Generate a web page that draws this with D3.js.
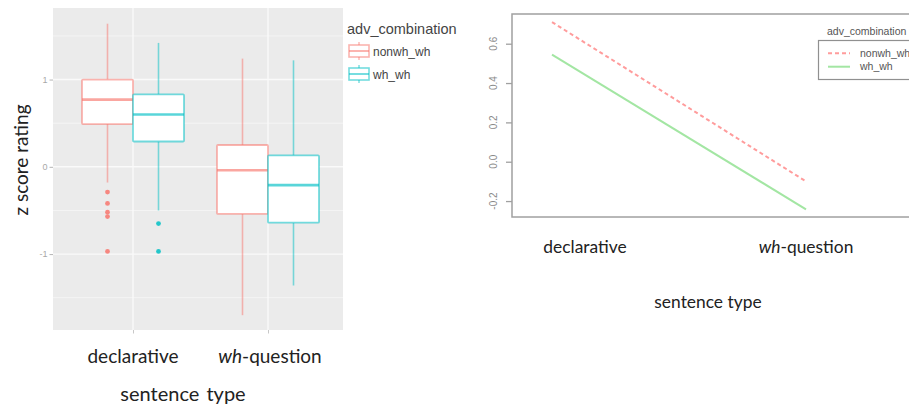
<!DOCTYPE html>
<html>
<head>
<meta charset="utf-8">
<script src="https://cdn.jsdelivr.net/npm/d3@7"></script>
<style>
  html, body { margin: 0; padding: 0; background: #fff; }
  svg { display: block; }
</style>
</head>
<body>
<svg id="chart" width="909" height="410"></svg>
<script>
// ---------- data ----------
const categories = ["declarative", "wh-question"];
const groups = ["nonwh_wh", "wh_wh"];
// box stats per category: [lower whisker, Q1, median, Q3, upper whisker]
const nonwhBox = [[-0.18, 0.49, 0.77, 1.00, 1.64], [-1.70, -0.54, -0.04, 0.25, 1.24]];
const whBox    = [[-0.50, 0.29, 0.60, 0.83, 1.42], [-1.36, -0.64, -0.21, 0.13, 1.22]];
const nonwhOutliers = [[-0.29, -0.42, -0.52, -0.57, -0.97], []];
const whOutliers    = [[-0.65, -0.97], []];
const leftYTicks = [-1, 0, 1];
const leftYMinor = [-1.5, -0.5, 0.5, 1.5];
// interaction plot means
const nonwhMeans = [0.71, -0.10];
const whMeans    = [0.545, -0.242];
const rightYTicks = [-0.2, 0.0, 0.2, 0.4, 0.6];

const boxColors = ["#F8766D", "#00BFC4"];
const lineColors = ["#ff9c9c", "#a3e6a3"];

const svg = d3.select("#chart");
const font = "Lato, 'Open Sans', sans-serif";
const smallFont = "'Liberation Sans', Arial, sans-serif";

// ---------- left panel (ggplot boxplot) ----------
const P = {x0: 53, x1: 343, y0: 8, y1: 330};
const yL = d3.scaleLinear().domain([-1.87, 1.82]).range([P.y1, P.y0]);
const xL = d3.scalePoint().domain(categories).range([133, 268]);
const boxW = 51;
const dodge = d3.scaleBand().domain(groups).range([-boxW, boxW]);

const left = svg.append("g");
left.append("rect").attr("x", P.x0).attr("y", P.y0)
  .attr("width", P.x1 - P.x0).attr("height", P.y1 - P.y0).attr("fill", "#ebebeb");
left.selectAll(".minor").data(leftYMinor).join("line")
  .attr("x1", P.x0).attr("x2", P.x1)
  .attr("y1", d => yL(d)).attr("y2", d => yL(d))
  .attr("stroke", "#f7f7f7").attr("stroke-width", 0.8);
left.selectAll(".major").data(leftYTicks).join("line")
  .attr("x1", P.x0).attr("x2", P.x1)
  .attr("y1", d => yL(d)).attr("y2", d => yL(d))
  .attr("stroke", "#fafafa").attr("stroke-width", 1.4);
left.selectAll(".vmajor").data(categories).join("line")
  .attr("x1", d => xL(d)).attr("x2", d => xL(d))
  .attr("y1", P.y0).attr("y2", P.y1)
  .attr("stroke", "#fafafa").attr("stroke-width", 1.4);

// y axis
const yAxisL = d3.axisLeft(yL).tickValues(leftYTicks).tickSize(3.5).tickPadding(2)
  .tickFormat(d => String(d));
const gyL = left.append("g").attr("transform", `translate(${P.x0},0)`).call(yAxisL);
gyL.select(".domain").remove();
gyL.selectAll("line").attr("stroke", "#b5b5b5");
gyL.selectAll("text").attr("fill", "#a8a8a8").style("font-size", "9px").style("font-family", smallFont);

// x axis ticks
const xAxisL = d3.axisBottom(xL).tickSize(3.5).tickFormat("");
const gxL = left.append("g").attr("transform", `translate(0,${P.y1})`).call(xAxisL);
gxL.select(".domain").remove();
gxL.selectAll("line").attr("stroke", "#c8c8c8");

const boxSets = [nonwhBox, whBox];
const outSets = [nonwhOutliers, whOutliers];
groups.forEach((g, gi) => {
  const col = boxColors[gi];
  categories.forEach((c, ci) => {
    const s = boxSets[gi][ci];
    const bx = xL(c) + dodge(g);
    const cx = bx + boxW / 2;
    const gg = left.append("g");
    gg.append("line").attr("x1", cx).attr("x2", cx).attr("y1", yL(s[4])).attr("y2", yL(s[3]))
      .attr("stroke", col).attr("stroke-opacity", 0.5).attr("stroke-width", 1.6);
    gg.append("line").attr("x1", cx).attr("x2", cx).attr("y1", yL(s[1])).attr("y2", yL(s[0]))
      .attr("stroke", col).attr("stroke-opacity", 0.5).attr("stroke-width", 1.6);
    gg.append("rect").attr("x", bx).attr("y", yL(s[3]))
      .attr("width", boxW).attr("height", yL(s[1]) - yL(s[3]))
      .attr("fill", "#fff").attr("stroke", col).attr("stroke-opacity", 0.55)
      .attr("stroke-width", 1.8).attr("rx", 1);
    gg.append("line").attr("x1", bx).attr("x2", bx + boxW).attr("y1", yL(s[2])).attr("y2", yL(s[2]))
      .attr("stroke", col).attr("stroke-opacity", 0.65).attr("stroke-width", 2.6);
    gg.selectAll("circle").data(outSets[gi][ci]).join("circle")
      .attr("cx", cx).attr("cy", d => yL(d)).attr("r", 2.4)
      .attr("fill", col).attr("fill-opacity", 0.85);
  });
});

// left titles
left.append("text").attr("transform", "translate(28,160) rotate(-90)")
  .attr("text-anchor", "middle").style("font-family", font).style("font-size", "19px")
  .attr("fill", "#222").text("z score rating");

function catLabel(sel, cat, x, y, size) {
  const t = sel.append("text").attr("x", x).attr("y", y).attr("text-anchor", "middle")
    .style("font-family", font).style("font-size", size + "px").attr("fill", "#222");
  if (cat.startsWith("wh-")) {
    t.append("tspan").style("font-style", "italic").text("wh");
    t.append("tspan").text(cat.slice(2));
  } else {
    t.text(cat);
  }
}
categories.forEach((c, i) => catLabel(left, c, xL(c) + (i === 1 ? 2 : 0), 363, 19));
left.append("text").attr("x", 183).attr("y", 401).attr("text-anchor", "middle")
  .style("font-family", font).style("font-size", "20px").style("word-spacing", "2px")
  .attr("fill", "#222").text("sentence type");

// left legend
left.append("text").attr("x", 347).attr("y", 34).style("font-family", smallFont)
  .style("font-size", "14.5px").attr("fill", "#444").text("adv_combination");
groups.forEach((g, gi) => {
  const col = boxColors[gi];
  const ky = 42 + gi * 23;
  const lg = left.append("g");
  lg.append("line").attr("x1", 359).attr("x2", 359).attr("y1", ky).attr("y2", ky + 18)
    .attr("stroke", col).attr("stroke-opacity", 0.5).attr("stroke-width", 1.5);
  lg.append("rect").attr("x", 349).attr("y", ky + 3).attr("width", 20).attr("height", 12)
    .attr("fill", "#fff").attr("stroke", col).attr("stroke-opacity", 0.55).attr("stroke-width", 1.6);
  lg.append("line").attr("x1", 349).attr("x2", 369).attr("y1", ky + 9).attr("y2", ky + 9)
    .attr("stroke", col).attr("stroke-opacity", 0.6).attr("stroke-width", 1.8);
  lg.append("text").attr("x", 373).attr("y", ky + 13.5).style("font-family", smallFont)
    .style("font-size", "12px").attr("fill", "#444").text(g);
});

// ---------- right panel (interaction plot) ----------
const R = {x0: 512, x1: 930, y0: 14, y1: 217};
const yR = d3.scaleLinear().domain([-0.28, 0.75]).range([216.8, 14.2]);
const xR = d3.scaleLinear().domain([1, 2]).range([552, 806]);
const right = svg.append("g");
right.append("rect").attr("x", R.x0).attr("y", R.y0).attr("width", R.x1 - R.x0)
  .attr("height", R.y1 - R.y0).attr("fill", "none").attr("stroke", "#a0a0a0").attr("stroke-width", 1.5);

const yAxisR = d3.axisLeft(yR).tickValues(rightYTicks).tickSize(6).tickFormat("");
const gyR = right.append("g").attr("transform", `translate(${R.x0},0)`).call(yAxisR);
gyR.select(".domain").remove();
gyR.selectAll("line").attr("stroke", "#a0a0a0").attr("stroke-width", 1.3);
right.selectAll(".ylab").data(rightYTicks).join("text")
  .attr("transform", d => `translate(497,${yR(d)}) rotate(-90)`)
  .attr("text-anchor", "middle").style("font-family", smallFont).style("font-size", "10px")
  .attr("fill", "#8a8a8a").text(d => d.toFixed(1));

const lineGen = d3.line().x((d, i) => xR(i + 1)).y(d => yR(d));
right.append("path").datum(nonwhMeans).attr("d", lineGen).attr("fill", "none")
  .attr("stroke", lineColors[0]).attr("stroke-width", 2).attr("stroke-dasharray", "4,3");
right.append("path").datum(whMeans).attr("d", lineGen).attr("fill", "none")
  .attr("stroke", lineColors[1]).attr("stroke-width", 2);

// right labels
catLabel(right, categories[0], xR(1) + 33, 253, 17.4);
catLabel(right, categories[1], xR(2), 253, 17.4);
right.append("text").attr("x", 708).attr("y", 308).attr("text-anchor", "middle")
  .style("font-family", font).style("font-size", "17.4px").attr("fill", "#222").text("sentence type");

// right legend
right.append("text").attr("x", 827).attr("y", 35).style("font-family", smallFont)
  .style("font-size", "10.5px").attr("fill", "#555").text("adv_combination");
right.append("rect").attr("x", 818.5).attr("y", 40.5).attr("width", 120).attr("height", 39)
  .attr("fill", "#fff").attr("stroke", "#909090").attr("stroke-width", 1.2);
const dashes = ["4,3", null];
groups.forEach((g, gi) => {
  const ly = 53.3 + gi * 13.4;
  const l = right.append("line").attr("x1", 828).attr("x2", 850).attr("y1", ly).attr("y2", ly)
    .attr("stroke", lineColors[gi]).attr("stroke-width", 2);
  if (dashes[gi]) l.attr("stroke-dasharray", dashes[gi]);
  right.append("text").attr("x", 860).attr("y", ly + 3.5).style("font-family", smallFont)
    .style("font-size", "10.5px").attr("fill", "#555").text(g);
});
</script>
</body>
</html>
